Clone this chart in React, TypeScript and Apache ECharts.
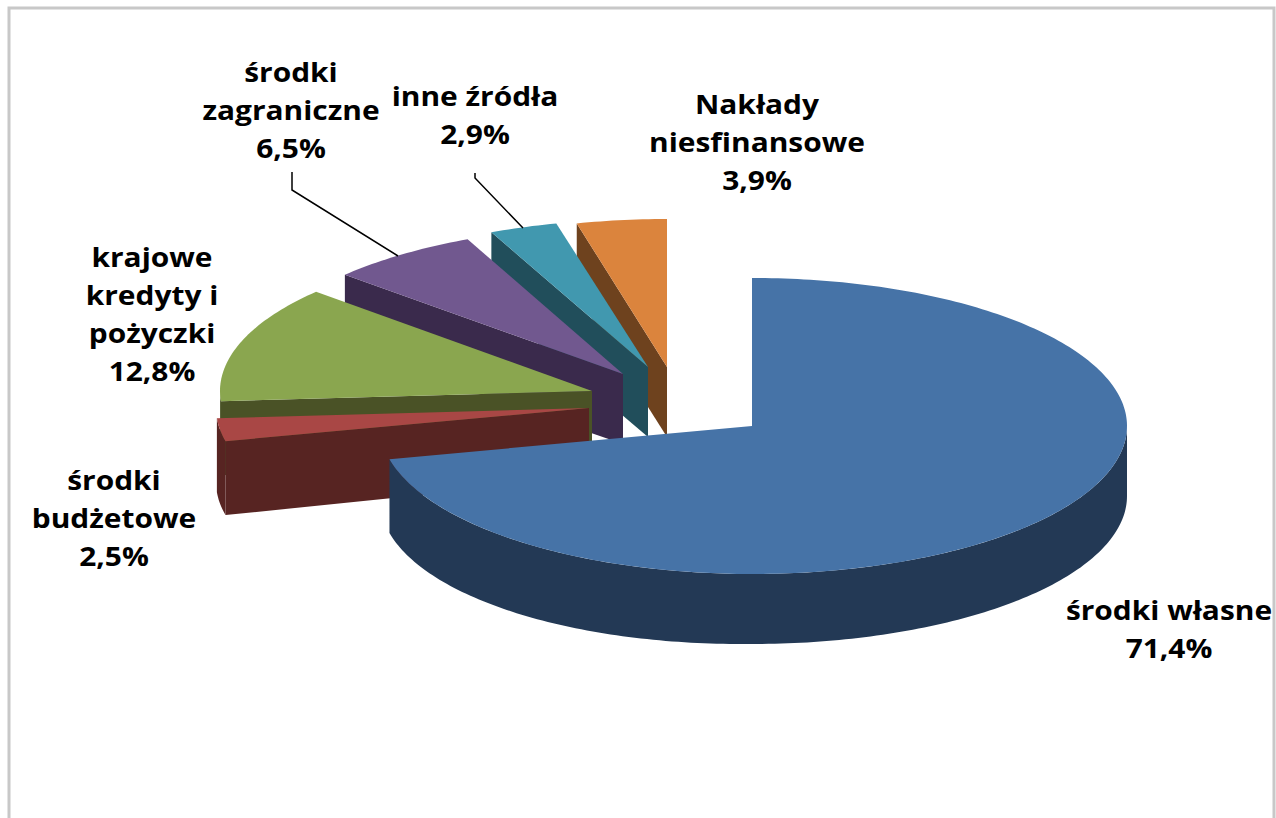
import React, { useEffect, useRef } from "react";
import * as echarts from "echarts";

const sliceNames = ["środki własne", "środki budżetowe", "krajowe kredyty i pożyczki", "środki zagraniczne", "inne źródła", "Nakłady niesfinansowe"];
const sliceValues = [71.4, 2.5, 12.8, 6.5, 2.9, 3.9];
const labelNameLines = [
  ["środki własne"],
  ["środki", "budżetowe"],
  ["krajowe", "kredyty i", "pożyczki"],
  ["środki", "zagraniczne"],
  ["inne źródła"],
  ["Nakłady", "niesfinansowe"],
];
const valueLabels = ["71,4%", "2,5%", "12,8%", "6,5%", "2,9%", "3,9%"];

// Styling and layout of the 3D pie, kept apart from the data
const topColors = ["#4673A7", "#A94745", "#8AA64F", "#71588F", "#4198AF", "#DB843D"];
const sideColors = ["#233955", "#572422", "#4A5226", "#3A2A4C", "#214E5B", "#6E421E"];
const apexX = [752, 589, 592, 623, 648, 667];
const apexY = [426, 408, 391, 374, 367, 367];
const leftRadiusX = [372, 373, 372, 375, 378, 372];
const labelX = [1169, 114, 152, 291, 475, 757];
const labelY = [629, 518, 314, 110, 115, 142];
const leaders: (number[][] | null)[] = [
  null,
  null,
  null,
  [[292, 172], [292, 190], [398, 256]],
  [[475, 173], [475, 178], [523, 228]],
  null,
];
const RX = 375;
const RY = 148;
const DEPTH = 70;
const LEFT_EXTRA_DEPTH = 4;
const FONT = "Open Sans";
const FONT_SIZE = 26;
const LINE_HEIGHT = 38;
const TEXT_STRETCH = 1.15;

const total = sliceValues.reduce((a, b) => a + b, 0);
const startAngles = sliceValues.map((_, i) => (sliceValues.slice(0, i).reduce((a, b) => a + b, 0) / total) * 360);

function outer(i: number, deg: number, lower = false): number[] {
  const r = (deg * Math.PI) / 180;
  const sin = Math.sin(r);
  const rx = sin < 0 ? leftRadiusX[i] : RX;
  const dy = lower ? DEPTH + LEFT_EXTRA_DEPTH * Math.max(0, -sin) : 0;
  return [apexX[i] + rx * sin, apexY[i] - RY * Math.cos(r) + dy];
}

function arc(i: number, from: number, to: number, lower = false): number[][] {
  const pts: number[][] = [];
  const n = Math.max(2, Math.ceil(to - from));
  for (let k = 0; k <= n; k++) pts.push(outer(i, from + ((to - from) * k) / n, lower));
  return pts;
}

function renderSlice(params: any) {
  const i = sliceValues.length - 1 - params.dataIndex;
  const from = startAngles[i];
  const to = from + (sliceValues[i] / total) * 360;
  const children: any[] = [];
  const ax = apexX[i];
  const ay = apexY[i];

  if (i !== 0) {
    children.push({
      type: "polygon",
      shape: { points: [[ax, ay], outer(i, from), outer(i, from, true), [ax, ay + DEPTH]] },
      style: { fill: sideColors[i] },
    });
  }
  const rimFrom = Math.max(from, 90);
  const rimTo = Math.min(to, 270);
  if (rimTo > rimFrom) {
    const top = arc(i, rimFrom, rimTo);
    const bottom = arc(i, rimFrom, rimTo, true).reverse();
    children.push({
      type: "polygon",
      shape: { points: top.concat(bottom) },
      style: { fill: sideColors[i] },
    });
  }
  children.push({
    type: "polygon",
    shape: { points: [[ax, ay] as number[]].concat(arc(i, from, to)) },
    style: { fill: topColors[i] },
  });
  return { type: "group", children };
}

function renderLabels(params: any) {
  const i = params.dataIndex;
  const children: any[] = [
    {
      type: "text",
      x: labelX[i],
      y: labelY[i],
      scaleX: TEXT_STRETCH,
      style: {
        text: [...labelNameLines[i], valueLabels[i]].join("\n"),
        fill: "#000000",
        font: `bold ${FONT_SIZE}px "${FONT}", sans-serif`,
        lineHeight: LINE_HEIGHT,
        align: "center",
        verticalAlign: "middle",
      },
    },
  ];
  const leader = leaders[i];
  if (leader) {
    children.push({
      type: "polyline",
      shape: { points: leader },
      style: { fill: "none", stroke: "#000000", lineWidth: 1.5 },
    });
  }
  return { type: "group", children };
}

export default function App() {
  const ref = useRef<HTMLDivElement>(null);
  useEffect(() => {
    document.body.style.margin = "0";
    const chart = echarts.init(ref.current!, undefined, { renderer: "svg" });
    chart.setOption({
      animation: false,
      backgroundColor: "#ffffff",
      tooltip: { show: false },
      graphic: [
        {
          type: "rect",
          shape: { x: 9, y: 8, width: 1265, height: 830 },
          style: { fill: "none", stroke: "#C8C8C8", lineWidth: 3 },
          silent: true,
        },
      ],
      series: [
        {
          type: "custom",
          name: "pie",
          coordinateSystem: "none",
          renderItem: renderSlice,
          data: sliceValues.map((v, i) => ({ name: sliceNames[i], value: v })).reverse(),
          silent: true,
          z: 2,
        },
        {
          type: "custom",
          name: "labels",
          coordinateSystem: "none",
          renderItem: renderLabels,
          data: sliceValues.map((v, i) => ({ name: sliceNames[i], value: v })),
          silent: true,
          z: 3,
        },
      ],
    });
    return () => chart.dispose();
  }, []);
  return <div ref={ref} style={{ position: "fixed", left: 0, top: 0, width: 1276, height: 818 }} />;
}
